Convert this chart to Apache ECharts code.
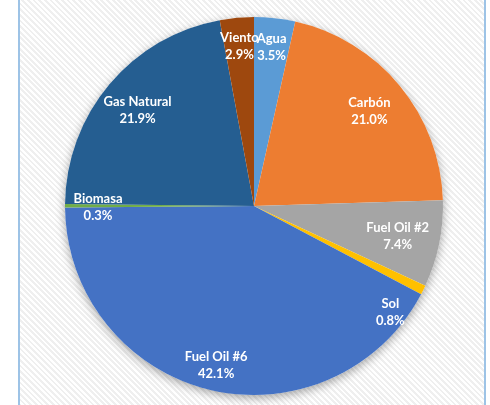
<!DOCTYPE html>
<html>
<head>
<meta charset="utf-8">
<script src="https://cdn.jsdelivr.net/npm/echarts@6/dist/echarts.min.js"></script>
<style>
  html, body { margin: 0; padding: 0; background: #fff; }
  .frame {
    position: absolute; left: 18px; top: -5px; width: 464px; height: 420px;
    border-left: 2px solid #9dc3e6; border-right: 2px solid #9dc3e6;
    background: repeating-linear-gradient(45deg, #ffffff 0px, #ffffff 2px, #efefef 2px, #efefef 4px);
  }
  #main { position: absolute; left: 0; top: 0; width: 490px; height: 405px; }
</style>
</head>
<body>
<div class="frame"></div>
<div id="main"></div>
<script>
// fuentes de generación, en el orden del gráfico (sentido horario desde las 12)
var fuentes = ["Agua", "Carbón", "Fuel Oil #2", "Sol", "Fuel Oil #6", "Biomasa", "Gas Natural", "Viento"];
var porcentajes = [3.5, 21.0, 7.4, 0.8, 42.1, 0.3, 21.9, 2.9];
var colores = ["#5b9bd5", "#ed7d31", "#a5a5a5", "#ffc000", "#4472c4", "#70ad47", "#255e91", "#9e480e"];

var chartDom = document.getElementById("main");
var myChart = echarts.init(chartDom);

var datos = fuentes.map(function (n, i) {
  return { name: n, value: porcentajes[i], itemStyle: { color: colores[i] } };
});

// ajustes de etiquetas (como el "mejor ajuste" de Excel)
var ajustes = {
  1: { dx: -8, dy: 7 },
  2: { dx: -13, dy: -2 },
  3: { dx: -7, dy: 35 },
  4: { dx: 0, dy: 4 },
  5: { dx: 4, dy: 2 },
  6: { dx: 6, dy: 7 }
};

var centro = [254, 206];
var option = {
  animation: false,
  series: [
    {
      // sombra del pastel
      type: "pie",
      center: centro,
      radius: [0, 189],
      silent: true,
      label: { show: false },
      data: [{ value: 1, itemStyle: { color: "#fff", shadowBlur: 10, shadowOffsetY: 3, shadowColor: "rgba(0,0,0,0.35)" } }]
    },
    {
      type: "pie",
      center: centro,
      radius: [0, 189],
      startAngle: 90,
      clockwise: true,
      label: { show: false },
      labelLine: { show: false },
      data: datos
    },
    {
      // serie solo para las etiquetas
      type: "pie",
      center: centro,
      radius: [124, 190],
      startAngle: 90,
      clockwise: true,
      silent: true,
      itemStyle: { color: "transparent" },
      label: {
        show: true,
        position: "inside",
        align: "center",
        color: "#fff",
        fontFamily: "Lato",
        fontWeight: "bold",
        fontSize: 13,
        lineHeight: 17,
        formatter: function (p) {
          return p.name + "\n" + p.value.toFixed(1) + "%";
        }
      },
      labelLayout: function (p) {
        return ajustes[p.dataIndex] || {};
      },
      data: fuentes.map(function (n, i) { return { name: n, value: porcentajes[i] }; })
    }
  ]
};

myChart.setOption(option);
window.onresize = function () {
  myChart.resize();
};
</script>
</body>
</html>
